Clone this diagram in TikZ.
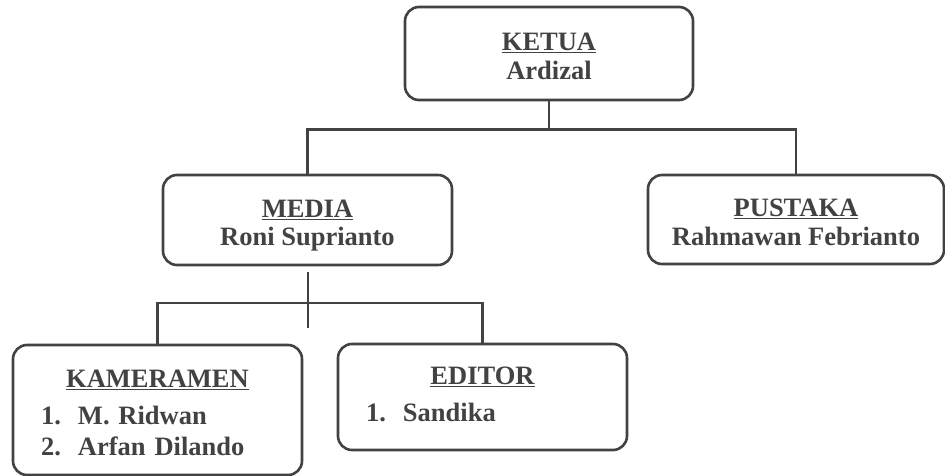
\documentclass[tikz,border=0pt]{standalone}
\usepackage{fontspec}
\setmainfont{Liberation Serif}
\usetikzlibrary{calc}
\definecolor{ink}{HTML}{424242}
\newcommand{\member}[2]{\makebox[\linewidth][l]{\makebox[37pt][l]{#1}#2}}
\newcommand{\tall}[1]{\rule{0pt}{#1}}
\newcommand{\deep}[1]{\rule[-#1]{0pt}{#1}}
\tikzset{
    box/.style =    {rectangle,
                    rounded corners=14pt,
                    fill=white,
                    draw=ink,
                    text=ink,
                    line width=2.6pt,
                    font=\fontsize{26.5}{28.5}\selectfont\bfseries,
                    align=center,
                    inner sep=0pt,
                    minimum width=289pt,
                    minimum height=90pt},
    listbox/.style = {box,
                    text width=233pt,
                    inner xsep=28pt,
                    font=\fontsize{26.5}{31.5}\selectfont\bfseries},
    -,
    line/.style =   {draw=ink,
                    line width=2.8pt}}

\begin{document}
\begin{tikzpicture}[x=1pt,y=-1pt]
                \useasboundingbox (0,0) rectangle (945,476);
                \node[box]      (ketua)     at (549,53.5)  [minimum width=288pt,minimum height=93pt]   {\tall{29pt}\underline{KETUA}\\Ardizal\deep{6pt}};
                \node[box]      (media)     at (307.5,220)                                          {\tall{29pt}\underline{MEDIA}\\Roni Suprianto\deep{6pt}};
                \node[box]      (pustaka)   at (796,219.5) [minimum width=296pt,minimum height=89pt]   {\tall{29pt}\underline{PUSTAKA}\\Rahmawan Febrianto\deep{6pt}};
                \node[listbox]  (kameramen) at (157.5,410) [minimum height=130pt]                     {\tall{24pt}\underline{KAMERAMEN}\\[5pt]\member{1.}{M. Ridwan}\\\member{2.}{Arfan Dilando}};
                \node[listbox]  (editor)    at (482.5,397) [minimum height=106pt]                     {\underline{EDITOR}\\[5pt]\member{1.}{Sandika\deep{6pt}}};

                \coordinate (top)   at (549,129.5);
                \coordinate (split) at (308,303);
                \coordinate (stub1) at (308,272);
                \coordinate (stub2) at (308,328);

                \draw[line]     (ketua) -- (top);
                \draw[line]     (media.north) |- (top) -| (pustaka.north);
                \draw[line]     (stub1) -- (stub2);
                \draw[line]     (kameramen.north) |- (split) -| (editor.north);
        \end{tikzpicture}
\end{document}
